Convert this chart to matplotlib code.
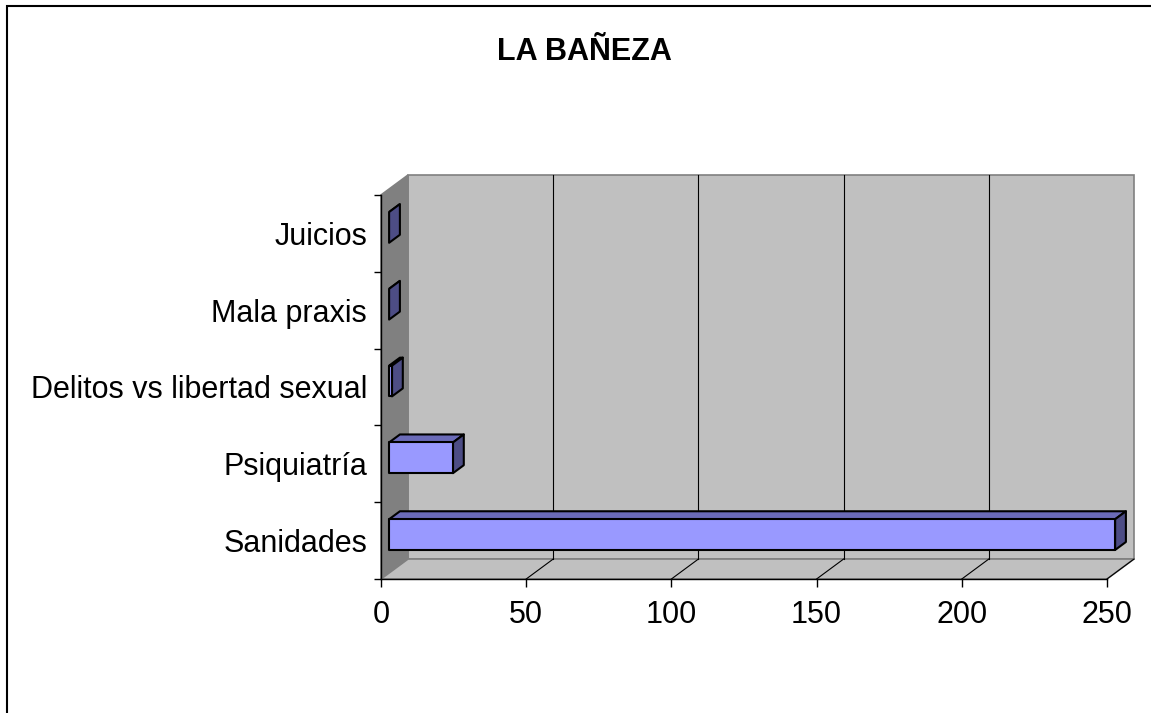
import matplotlib
matplotlib.use("Agg")
import matplotlib.pyplot as plt
from matplotlib.patches import Polygon, Rectangle

# data (bottom to top, as drawn)
categories = ["Sanidades", "Psiquiatría", "Delitos vs libertad sexual", "Mala praxis", "Juicios"]
values = [250, 22, 1, 0, 0]
x_ticks = [0, 50, 100, 150, 200, 250]
title = "LA BAÑEZA"

# 3d look (data units of the front plane)
DX, DY = 9.3, 0.26          # wall depth
F0, F1 = 0.3, 0.7           # bar depth inside the wall
HALF = 0.2                  # half bar thickness
FRONT = "#9999FF"
TOP = "#6B6BB8"
SIDE = "#4D4D85"

plt.rcParams["font.family"] = ["Liberation Sans", "DejaVu Sans"]

fig = plt.figure(figsize=(11.51, 7.13), dpi=100)
ax = fig.add_axes([381 / 1151, (713 - 579) / 713, 726 / 1151, 384 / 713])
ax.set_xlim(0, 250)
ax.set_ylim(0, len(categories))
ax.patch.set_visible(False)

xmax = x_ticks[-1]
n = len(categories)

# walls and floor
walls = [
    ([(DX, DY), (xmax + DX, DY), (xmax + DX, n + DY), (DX, n + DY)], "#C0C0C0"),
    ([(0, 0), (DX, DY), (DX, n + DY), (0, n)], "#808080"),
    ([(0, 0), (xmax, 0), (xmax + DX, DY), (DX, DY)], "#C0C0C0"),
]
for pts, fc in walls:
    ax.add_patch(Polygon(pts, closed=True, fc=fc, ec="#808080", lw=1.2,
                         clip_on=False, zorder=0.5))

# gridlines on back wall and floor
for t in x_ticks[1:-1]:
    ax.plot([t + DX, t + DX], [DY, n + DY], color="black", lw=0.8,
            clip_on=False, zorder=0.6)
for t in x_ticks[1:]:
    ax.plot([t, t + DX], [0, DY], color="black", lw=0.8,
            clip_on=False, zorder=0.6)

# bars
bx, by = (F1 - F0) * DX, (F1 - F0) * DY
for i, v in enumerate(values):
    x0 = F0 * DX
    x1 = v + x0
    y0 = i + 0.5 - HALF + F0 * DY
    y1 = y0 + 2 * HALF
    kw = dict(ec="black", lw=1.5, clip_on=False, zorder=3, joinstyle="round")
    ax.add_patch(Polygon([(x0, y1), (x1, y1), (x1 + bx, y1 + by), (x0 + bx, y1 + by)],
                         fc=TOP, **kw))
    ax.add_patch(Polygon([(x1, y0), (x1 + bx, y0 + by), (x1 + bx, y1 + by), (x1, y1)],
                         fc=SIDE, **kw))
    if v > 0:
        ax.add_patch(Rectangle((x0, y0), v, 2 * HALF, fc=FRONT, **kw))

# axes
for s in ["top", "right"]:
    ax.spines[s].set_visible(False)
for s in ["left", "bottom"]:
    ax.spines[s].set_color("black")
    ax.spines[s].set_linewidth(1.0)
ax.set_xticks(x_ticks)
ax.set_xticklabels([str(t) for t in x_ticks])
ax.set_yticks(range(n + 1))
ax.set_yticklabels([])
ax.set_yticks([i + 0.5 for i in range(n)], minor=True)
ax.set_yticklabels(categories, minor=True)
ax.tick_params(axis="x", length=6, width=1, pad=9, labelsize=22, colors="black")
ax.tick_params(axis="y", which="major", length=5, width=1, colors="black")
ax.tick_params(axis="y", which="minor", length=0, pad=10, labelsize=22)

fig.text(584 / 1151, 1 - 60 / 713, title, ha="center", va="baseline",
         fontsize=22, fontweight="bold")

# chart border
fig.patches.append(Rectangle((6.5 / 1151, -0.1), 2, 1.1 - 6.5 / 713, fill=False,
                             ec="black", lw=1.5, transform=fig.transFigure, figure=fig))

fig.savefig("out.png", dpi=100)
